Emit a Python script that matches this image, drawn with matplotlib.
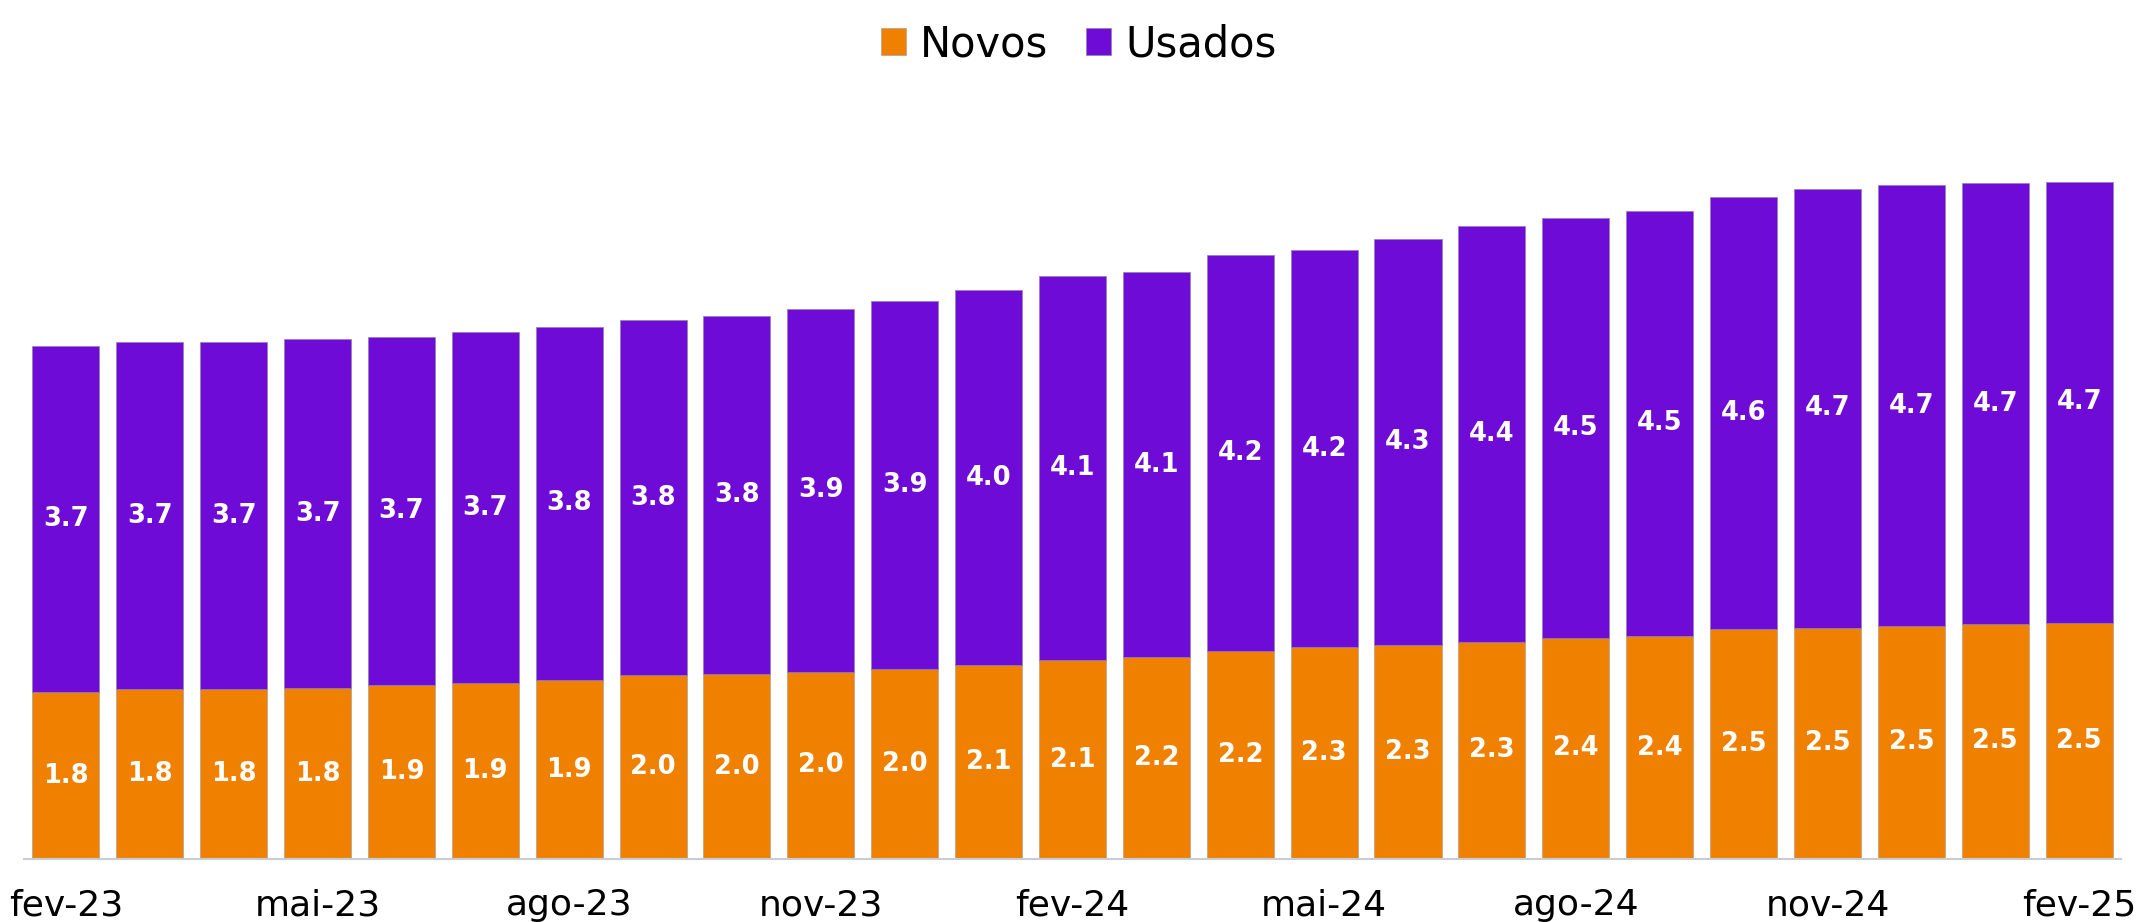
import matplotlib.pyplot as plt
import numpy as np

meses = ['fev-23', 'mar-23', 'abr-23', 'mai-23', 'jun-23', 'jul-23', 'ago-23', 'set-23', 'out-23',
         'nov-23', 'dez-23', 'jan-24', 'fev-24', 'mar-24', 'abr-24', 'mai-24', 'jun-24', 'jul-24',
         'ago-24', 'set-24', 'out-24', 'nov-24', 'dez-24', 'jan-25', 'fev-25']
novos = [1.78, 1.81, 1.81, 1.82, 1.86, 1.88, 1.91, 1.96, 1.97, 2.00, 2.03, 2.07, 2.12,
         2.16, 2.22, 2.26, 2.28, 2.32, 2.36, 2.38, 2.46, 2.47, 2.49, 2.51, 2.52]
usados = [3.70, 3.71, 3.71, 3.73, 3.71, 3.74, 3.77, 3.79, 3.82, 3.87, 3.93, 4.00, 4.10,
          4.10, 4.23, 4.24, 4.34, 4.44, 4.48, 4.54, 4.61, 4.68, 4.70, 4.70, 4.71]

cor_novos = '#F08000'
cor_usados = '#6E0BD6'

fig = plt.figure(figsize=(21.36, 9.22), dpi=100)
ax = fig.add_axes([0.0112, 0.0683, 0.9818, 0.8232])

x = np.arange(len(meses))
b1 = ax.bar(x, novos, width=0.8, color=cor_novos, edgecolor='#b0a090', linewidth=0.5, label='Novos')
b2 = ax.bar(x, usados, width=0.8, bottom=novos, color=cor_usados, edgecolor='#9080b0',
            linewidth=0.5, label='Usados')

ax.bar_label(b1, labels=[f'{v:.1f}' for v in novos], label_type='center',
             color='white', fontsize=18.5, fontweight='bold')
ax.bar_label(b2, labels=[f'{v:.1f}' for v in usados], label_type='center',
             color='white', fontsize=18.5, fontweight='bold')

ax.set_xlim(-0.5, 24.5)
ax.set_ylim(0, 8.1)
ax.set_yticks([])
ax.set_xticks(x[::3])
ax.set_xticklabels(meses[::3], fontsize=26)
ax.tick_params(axis='x', length=0, pad=21)
for s in ['top', 'right', 'left']:
    ax.spines[s].set_visible(False)
ax.spines['bottom'].set_color('#c8ccd4')
ax.spines['bottom'].set_linewidth(1.5)

fig.legend(handles=[b1, b2], labels=['Novos', 'Usados'], loc='center',
           bbox_to_anchor=(0.505, 0.952), ncol=2, frameon=False, fontsize=30,
           handlelength=0.6, handleheight=0.6, handletextpad=0.35, columnspacing=0.9)

plt.savefig('out.png', dpi=100)
